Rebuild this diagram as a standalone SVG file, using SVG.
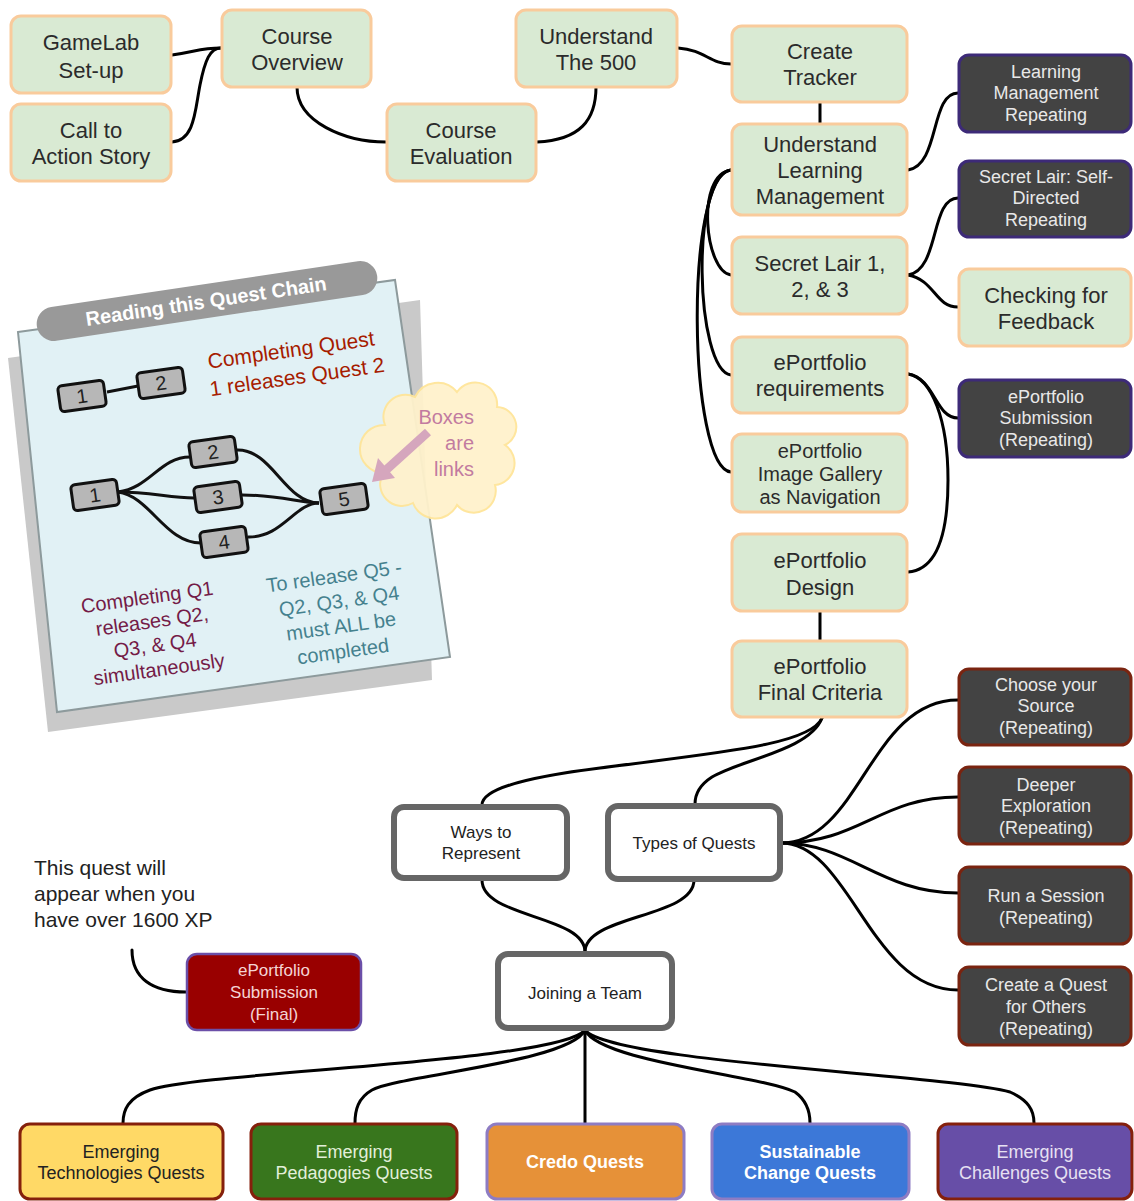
<svg xmlns="http://www.w3.org/2000/svg" width="1134" height="1201" viewBox="0 0 1134 1201">
<style>
text{font-family:"Liberation Sans",Arial,sans-serif;text-anchor:middle}
.g rect{fill:#d9ead3;stroke:#f9cb9c;stroke-width:3}
.g text{font-size:22px;fill:#2b2b2b}
.d rect{fill:#434343;stroke:#3d2a78;stroke-width:3}
.d.r rect{stroke:#7a2410}
.d text{font-size:18px;fill:#e8e8e8}
.w rect{fill:#fff;stroke:#666;stroke-width:6}
.w text{font-size:17px;fill:#222}
.b text{font-size:18px}
.c path,.c line{fill:none;stroke:#000;stroke-width:3;stroke-linecap:round}
.lb rect{fill:#b7b7b7;stroke:#111;stroke-width:3}
.lb text{font-size:20px;fill:#222}
.lc path,.lc line{fill:none;stroke:#111;stroke-width:3}
</style>

<!-- legend card -->
<g id="legend">
<polygon points="8,358 48,732 432,680 420,300" fill="#c9c9c9"/>
<polygon points="18,332 395,280 450,657 57,712" fill="#e1f1f5" stroke="#8d9a9c" stroke-width="2"/>
<rect x="35" y="284" width="344" height="34" rx="17" fill="#999" transform="rotate(-8.5 207 301)"/>
<text x="207" y="308" transform="rotate(-8.5 207 308)" style="font-size:20px;font-weight:bold;fill:#fff">Reading this Quest Chain</text>
<g class="lc">
<line x1="107" y1="392" x2="138" y2="386"/>
<path d="M118,492 C150,488 160,457 190,457"/>
<path d="M118,492 C150,492 170,498 194,498"/>
<path d="M118,492 C150,496 165,543 201,543"/>
<path d="M237,450 C272,449 285,503 319,503"/>
<path d="M242,495 C280,495 300,503 319,503"/>
<path d="M248,537 C282,538 295,503 319,503"/>
</g>
<g class="lb">
<g transform="rotate(-8 82 396)"><rect x="59" y="383" width="46" height="26" rx="4"/><text x="82" y="403">1</text></g>
<g transform="rotate(-8 161 383)"><rect x="138" y="370" width="46" height="26" rx="4"/><text x="161" y="390">2</text></g>
<g transform="rotate(-8 95 495)"><rect x="72" y="482" width="46" height="26" rx="4"/><text x="95" y="502">1</text></g>
<g transform="rotate(-8 213 452)"><rect x="190" y="439" width="46" height="26" rx="4"/><text x="213" y="459">2</text></g>
<g transform="rotate(-8 218 497)"><rect x="195" y="484" width="46" height="26" rx="4"/><text x="218" y="504">3</text></g>
<g transform="rotate(-8 224 542)"><rect x="201" y="529" width="46" height="26" rx="4"/><text x="224" y="549">4</text></g>
<g transform="rotate(-8 344 499)"><rect x="321" y="486" width="46" height="26" rx="4"/><text x="344" y="506">5</text></g>
</g>
<g style="font-size:21px;fill:#a61c00">
<text x="292" y="357" transform="rotate(-8 292 357)">Completing Quest</text>
<text x="298" y="384" transform="rotate(-8 298 384)">1 releases Quest 2</text>
</g>
<g style="font-size:20px;fill:#741b47">
<text x="148" y="604" transform="rotate(-8 148 604)">Completing Q1</text>
<text x="153" y="628" transform="rotate(-8 153 628)">releases Q2,</text>
<text x="156" y="652" transform="rotate(-8 156 652)">Q3, &amp; Q4</text>
<text x="160" y="676" transform="rotate(-8 160 676)">simultaneously</text>
</g>
<g style="font-size:20px;fill:#45818e">
<text x="335" y="583" transform="rotate(-8 335 583)">To release Q5 -</text>
<text x="340" y="608" transform="rotate(-8 340 608)">Q2, Q3, &amp; Q4</text>
<text x="342" y="633" transform="rotate(-8 342 633)">must ALL be</text>
<text x="344" y="658" transform="rotate(-8 344 658)">completed</text>
</g>
<path d="M385,425 a22,22 0 0 1 30,-28 a25,25 0 0 1 42,-5 a22,22 0 0 1 40,15 a20,20 0 0 1 8,38 a22,22 0 0 1 -10,40 a22,22 0 0 1 -38,20 a24,24 0 0 1 -44,-2 a22,22 0 0 1 -30,-30 a20,20 0 0 1 2,-48 z" fill="#fff2cc" stroke="#ffe599" stroke-width="2" opacity="0.95"/>
<line x1="428" y1="432" x2="386" y2="470" stroke="#d5a6bd" stroke-width="9"/>
<polygon points="372,482 395,478 378,458" fill="#d5a6bd"/>
<g style="font-size:20px;fill:#c27ba0;text-anchor:end">
<text x="474" y="424" style="text-anchor:end">Boxes</text>
<text x="474" y="450" style="text-anchor:end">are</text>
<text x="474" y="476" style="text-anchor:end">links</text>
</g>
</g>

<!-- connectors -->
<g id="connectors" class="c">
<path d="M172,55 C195,52 200,48 221,48"/>
<path d="M172,142 C195,140 195,110 200,85 C205,60 210,48 221,48"/>
<path d="M297,87 C297,122 345,142 386,142"/>
<path d="M537,142 C580,140 596,120 596,87"/>
<path d="M678,48 C705,50 710,64 731,64"/>
<line x1="820" y1="102" x2="820" y2="123"/>
<path d="M908,170 C940,165 930,93 958,93"/>
<path d="M908,275 C940,270 930,198 958,198"/>
<path d="M908,275 C935,280 935,307 958,307"/>
<path d="M908,374 C935,378 935,418 958,418"/>
<path d="M908,374 C932,378 948,420 948,480 C948,540 935,570 908,572"/>
<path d="M731,170 C695,175 705,272 731,275"/>
<path d="M731,170 C690,175 695,370 731,375"/>
<path d="M731,170 C684,175 688,468 731,472"/>
<line x1="820" y1="611" x2="820" y2="640"/>
<path d="M822,718 C810,745 720,752 600,768 C520,778 482,790 482,805"/>
<path d="M822,718 C810,750 740,760 712,777 C698,786 695,795 695,804"/>
<path d="M482,880 C482,918 585,915 585,952"/>
<path d="M694,880 C694,918 585,915 585,952"/>
<path d="M781,843 C860,843 870,700 958,700"/>
<path d="M781,843 C860,843 880,797 958,797"/>
<path d="M781,843 C850,843 880,893 958,893"/>
<path d="M781,843 C850,843 870,990 958,990"/>
<path d="M585,1030 C560,1062 200,1072 150,1090 C128,1098 123,1110 123,1123"/>
<path d="M585,1030 C570,1062 400,1075 372,1090 C358,1098 355,1110 355,1123"/>
<line x1="585" y1="1030" x2="585" y2="1123"/>
<path d="M585,1030 C600,1062 760,1075 795,1092 C806,1100 810,1110 810,1123"/>
<path d="M585,1030 C610,1062 950,1075 1010,1092 C1028,1100 1034,1110 1034,1123"/>
<path d="M132,950 C132,978 152,992 186,992"/>
</g>

<!-- green nodes -->
<g id="gamelab" class="g"><rect x="11" y="16" width="160" height="77" rx="10"/><text x="91" y="50">GameLab</text><text x="91" y="78">Set-up</text></g>
<g id="call-to-action" class="g"><rect x="11" y="104" width="160" height="77" rx="10"/><text x="91" y="138">Call to</text><text x="91" y="164">Action Story</text></g>
<g id="course-overview" class="g"><rect x="222" y="10" width="149" height="77" rx="10"/><text x="297" y="44">Course</text><text x="297" y="70">Overview</text></g>
<g id="course-evaluation" class="g"><rect x="387" y="104" width="149" height="77" rx="10"/><text x="461" y="138">Course</text><text x="461" y="164">Evaluation</text></g>
<g id="understand-500" class="g"><rect x="516" y="10" width="161" height="77" rx="10"/><text x="596" y="44">Understand</text><text x="596" y="70">The 500</text></g>
<g id="create-tracker" class="g"><rect x="732" y="26" width="175" height="76" rx="10"/><text x="820" y="59">Create</text><text x="820" y="85">Tracker</text></g>
<g id="understand-lm" class="g"><rect x="732" y="124" width="175" height="91" rx="10"/><text x="820" y="152">Understand</text><text x="820" y="178">Learning</text><text x="820" y="204">Management</text></g>
<g id="secret-lair" class="g"><rect x="732" y="237" width="175" height="77" rx="10"/><text x="820" y="271">Secret Lair 1,</text><text x="820" y="297">2, &amp; 3</text></g>
<g id="eportfolio-req" class="g"><rect x="732" y="337" width="175" height="76" rx="10"/><text x="820" y="370">ePortfolio</text><text x="820" y="396">requirements</text></g>
<g id="eportfolio-gallery" class="g"><rect x="732" y="434" width="175" height="78" rx="10"/><text x="820" y="458" style="font-size:20px">ePortfolio</text><text x="820" y="481" style="font-size:20px">Image Gallery</text><text x="820" y="504" style="font-size:20px">as Navigation</text></g>
<g id="eportfolio-design" class="g"><rect x="732" y="534" width="175" height="77" rx="10"/><text x="820" y="568">ePortfolio</text><text x="820" y="595">Design</text></g>
<g id="eportfolio-final" class="g"><rect x="732" y="641" width="175" height="76" rx="10"/><text x="820" y="674">ePortfolio</text><text x="820" y="700">Final Criteria</text></g>
<g id="checking-feedback" class="g"><rect x="959" y="269" width="172" height="77" rx="10"/><text x="1046" y="303">Checking for</text><text x="1046" y="329">Feedback</text></g>

<!-- dark nodes -->
<g id="lm-repeating" class="d"><rect x="959" y="55" width="172" height="77" rx="10"/><text x="1046" y="78">Learning</text><text x="1046" y="99">Management</text><text x="1046" y="121">Repeating</text></g>
<g id="sl-self-directed" class="d"><rect x="959" y="161" width="172" height="76" rx="10"/><text x="1046" y="183">Secret Lair: Self-</text><text x="1046" y="204">Directed</text><text x="1046" y="226">Repeating</text></g>
<g id="eportfolio-submission" class="d"><rect x="959" y="380" width="172" height="77" rx="10"/><text x="1046" y="403">ePortfolio</text><text x="1046" y="424">Submission</text><text x="1046" y="446">(Repeating)</text></g>
<g id="choose-source" class="d r"><rect x="959" y="669" width="172" height="76" rx="10"/><text x="1046" y="691">Choose your</text><text x="1046" y="712">Source</text><text x="1046" y="734">(Repeating)</text></g>
<g id="deeper-exploration" class="d r"><rect x="959" y="767" width="172" height="77" rx="10"/><text x="1046" y="791">Deeper</text><text x="1046" y="812">Exploration</text><text x="1046" y="834">(Repeating)</text></g>
<g id="run-session" class="d r"><rect x="959" y="867" width="172" height="77" rx="10"/><text x="1046" y="902">Run a Session</text><text x="1046" y="924">(Repeating)</text></g>
<g id="create-quest" class="d r"><rect x="959" y="967" width="172" height="78" rx="10"/><text x="1046" y="991">Create a Quest</text><text x="1046" y="1013">for Others</text><text x="1046" y="1035">(Repeating)</text></g>

<!-- white nodes -->
<g id="ways-represent" class="w"><rect x="394" y="807" width="173" height="71" rx="10"/><text x="481" y="838">Ways to</text><text x="481" y="859">Represent</text></g>
<g id="types-quests" class="w"><rect x="608" y="806" width="172" height="73" rx="10"/><text x="694" y="849">Types of Quests</text></g>
<g id="joining-team" class="w"><rect x="498" y="954" width="174" height="74" rx="10"/><text x="585" y="999">Joining a Team</text></g>

<!-- annotation -->
<g id="note" style="font-size:21px;fill:#222">
<text x="34" y="875" style="text-anchor:start">This quest will</text>
<text x="34" y="901" style="text-anchor:start">appear when you</text>
<text x="34" y="927" style="text-anchor:start">have over 1600 XP</text>
</g>
<g id="eportfolio-final-submission"><rect x="187" y="954" width="174" height="76" rx="10" fill="#990000" stroke="#6b4fa8" stroke-width="2.5"/><g style="font-size:17px;fill:#f4d4d4"><text x="274" y="976">ePortfolio</text><text x="274" y="998">Submission</text><text x="274" y="1020">(Final)</text></g></g>

<!-- bottom nodes -->
<g id="emerging-tech" class="b"><rect x="20" y="1124" width="203" height="75" rx="10" fill="#ffd966" stroke="#85200c" stroke-width="3"/><g style="fill:#222"><text x="121" y="1158">Emerging</text><text x="121" y="1179">Technologies Quests</text></g></g>
<g id="emerging-pedagogies" class="b"><rect x="251" y="1124" width="206" height="75" rx="10" fill="#38761d" stroke="#85200c" stroke-width="3"/><g style="fill:#e2efd9"><text x="354" y="1158">Emerging</text><text x="354" y="1179">Pedagogies Quests</text></g></g>
<g id="credo" class="b"><rect x="487" y="1124" width="197" height="75" rx="10" fill="#e69138" stroke="#8e7cc3" stroke-width="3"/><text x="585" y="1168" style="fill:#fff;font-weight:bold">Credo Quests</text></g>
<g id="sustainable-change" class="b"><rect x="712" y="1124" width="197" height="75" rx="10" fill="#3c78d8" stroke="#8e7cc3" stroke-width="3"/><g style="fill:#fff;font-weight:bold"><text x="810" y="1158">Sustainable</text><text x="810" y="1179">Change Quests</text></g></g>
<g id="emerging-challenges" class="b"><rect x="938" y="1124" width="194" height="75" rx="10" fill="#674ea7" stroke="#85200c" stroke-width="3"/><g style="fill:#e6e0f2"><text x="1035" y="1158">Emerging</text><text x="1035" y="1179">Challenges Quests</text></g></g>
</svg>
